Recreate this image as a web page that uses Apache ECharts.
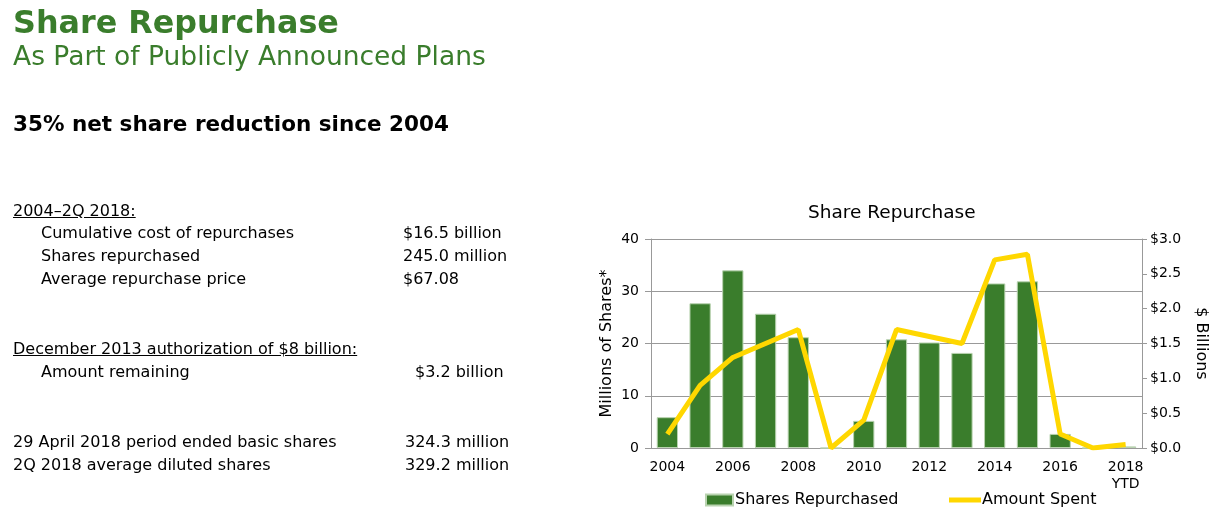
<!DOCTYPE html>
<html>
<head>
<meta charset="utf-8">
<script src="https://cdn.jsdelivr.net/npm/echarts@6/dist/echarts.min.js"></script>
<style>
  html, body { margin: 0; padding: 0; background: #fff; }
  body { width: 1215px; height: 515px; position: relative; overflow: hidden; font-family: "DejaVu Sans", Verdana, sans-serif; }
  .t { position: absolute; white-space: nowrap; line-height: 20px; font-size: 16px; color: #000; }
  .u { text-decoration: underline; }
  #chart { position: absolute; left: 0; top: 0; width: 1215px; height: 515px; }
</style>
</head>
<body>
<div id="chart"></div>
<div class="t" style="left:13px;top:3px;font-size:31.8px;line-height:38px;font-weight:bold;color:#3a7d2c;">Share Repurchase</div>
<div class="t" style="left:13px;top:41px;font-size:26.5px;line-height:30px;color:#3a7d2c;">As Part of Publicly Announced Plans</div>
<div class="t" style="left:13px;top:110px;font-size:21.5px;line-height:28px;font-weight:bold;">35% net share reduction since 2004</div>

<div class="t u" style="left:13px;top:201px;">2004–2Q 2018:</div>
<div class="t" style="left:41px;top:223px;">Cumulative cost of repurchases</div>
<div class="t" style="left:403px;top:223px;">$16.5 billion</div>
<div class="t" style="left:41px;top:246px;">Shares repurchased</div>
<div class="t" style="left:403px;top:246px;">245.0 million</div>
<div class="t" style="left:41px;top:269px;">Average repurchase price</div>
<div class="t" style="left:403px;top:269px;">$67.08</div>

<div class="t u" style="left:13px;top:339px;">December 2013 authorization of $8 billion:</div>
<div class="t" style="left:41px;top:362px;">Amount remaining</div>
<div class="t" style="left:415px;top:362px;">$3.2 billion</div>

<div class="t" style="left:13px;top:432px;">29 April 2018 period ended basic shares</div>
<div class="t" style="left:405px;top:432px;">324.3 million</div>
<div class="t" style="left:13px;top:455px;">2Q 2018 average diluted shares</div>
<div class="t" style="left:405px;top:455px;">329.2 million</div>

<script>
const years = ['2004','2005','2006','2007','2008','2009','2010','2011','2012','2013','2014','2015','2016','2017','2018\nYTD'];
const sharesRepurchased = [5.9, 27.7, 34.0, 25.7, 21.2, 0, 5.2, 20.8, 20.2, 18.2, 31.5, 31.9, 2.7, 0, 0.3];
const amountSpent = [0.2, 0.9, 1.3, 1.5, 1.7, 0.0, 0.4, 1.7, 1.6, 1.5, 2.7, 2.78, 0.2, 0.0, 0.05];
const leftTicks = [0, 10, 20, 30, 40];
const rightTicks = ['$0.0','$0.5','$1.0','$1.5','$2.0','$2.5','$3.0'];

const font = '"DejaVu Sans", Verdana, sans-serif';
const chart = echarts.init(document.getElementById('chart'));
chart.setOption({
  animation: false,
  title: {
    text: 'Share Repurchase',
    left: 808, top: 204,
    padding: 0,
    textStyle: { fontFamily: font, fontSize: 18.5, fontWeight: 'normal', color: '#000' }
  },
  legend: [
    {
      top: 487, left: 700,
      itemWidth: 27, itemHeight: 11,
      textStyle: { fontFamily: font, fontSize: 16, color: '#000', padding: [0,0,0,-3] },
      data: [{ name: 'Shares Repurchased', icon: 'rect' }]
    },
    {
      top: 487, left: 944,
      itemWidth: 32, itemHeight: 5,
      textStyle: { fontFamily: font, fontSize: 16, color: '#000', padding: [0,0,0,-4] },
      data: [{ name: 'Amount Spent', icon: 'rect' }]
    }
  ],
  grid: { left: 651, right: 73, top: 239, bottom: 67 },
  xAxis: {
    type: 'category',
    data: years,
    axisLine: { lineStyle: { color: '#999', width: 1 } },
    axisTick: { show: false },
    axisLabel: { interval: 1, fontFamily: font, fontSize: 14, color: '#000', margin: 11, lineHeight: 17 }
  },
  yAxis: [
    {
      type: 'value', min: 0, max: 40, interval: 10,
      name: 'Millions of Shares*', nameLocation: 'middle', nameGap: 36, nameRotate: 90,
      nameTextStyle: { fontFamily: font, fontSize: 16, color: '#000' },
      axisLine: { show: true, lineStyle: { color: '#999' } },
      axisTick: { show: true, length: 6, lineStyle: { color: '#999' } },
      splitLine: { lineStyle: { color: '#999' } },
      axisLabel: { fontFamily: font, fontSize: 14, color: '#000', margin: 12,
        formatter: v => leftTicks.includes(v) ? String(v) : '' }
    },
    {
      type: 'value', min: 0, max: 3, interval: 0.5, position: 'right',
      name: '$ Billions', nameLocation: 'middle', nameGap: 51, nameRotate: -90,
      nameTextStyle: { fontFamily: font, fontSize: 16, color: '#000' },
      axisLine: { show: true, lineStyle: { color: '#999' } },
      axisTick: { show: true, length: 5, lineStyle: { color: '#999' } },
      splitLine: { show: false },
      axisLabel: { fontFamily: font, fontSize: 14, color: '#000', margin: 8,
        formatter: v => rightTicks[Math.round(v * 2)] }
    }
  ],
  series: [
    {
      name: 'Shares Repurchased', type: 'bar', data: sharesRepurchased,
      barWidth: '65%',
      itemStyle: { color: '#3a7d2c', borderColor: '#b9d3b0', borderWidth: 1 }
    },
    {
      name: 'Amount Spent', type: 'line', yAxisIndex: 1, data: amountSpent,
      symbol: 'none',
      lineStyle: { color: '#ffd700', width: 5 },
      itemStyle: { color: '#ffd700' }
    }
  ]
});
</script>
</body>
</html>
